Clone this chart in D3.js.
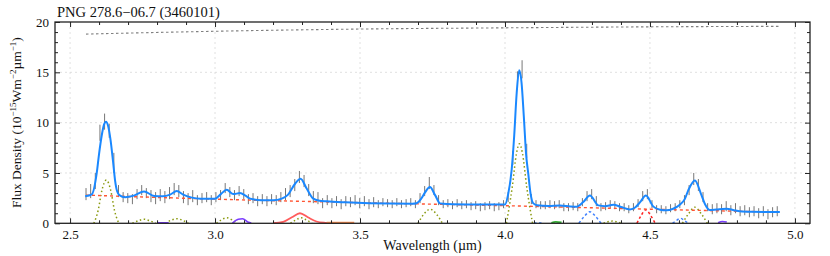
<!DOCTYPE html>
<html>
<head>
<meta charset="utf-8">
<script src="https://cdn.jsdelivr.net/npm/d3@7"></script>
<style>
  body { margin: 0; background: #fff; }
  #chart svg { display: block; }
  #chart text { font-family: "Liberation Serif", "Times New Roman", Times, serif; }
</style>
</head>
<body>
<div id="chart"></div>
<script>
// Observed spectrum (wavelength in micron, flux and 1-sigma error)
const obsWave = [2.555,2.571,2.587,2.603,2.619,2.635,2.651,2.667,2.683,2.699,2.715,2.731,2.747,2.763,2.779,2.795,2.811,2.827,2.843,2.859,
  2.875,2.891,2.907,2.923,2.939,2.955,2.971,2.987,3.003,3.019,3.035,3.051,3.067,3.083,3.099,3.115,3.131,3.147,3.163,3.179,
  3.195,3.211,3.227,3.243,3.259,3.275,3.291,3.307,3.323,3.339,3.355,3.371,3.387,3.403,3.419,3.435,3.451,3.467,3.483,3.499,
  3.515,3.531,3.547,3.563,3.579,3.595,3.611,3.627,3.643,3.659,3.675,3.691,3.707,3.723,3.739,3.755,3.771,3.787,3.803,3.819,
  3.835,3.851,3.867,3.883,3.899,3.915,3.931,3.947,3.963,3.979,3.995,4.011,4.027,4.043,4.059,4.075,4.091,4.107,4.123,4.139,
  4.155,4.171,4.187,4.203,4.219,4.235,4.251,4.267,4.283,4.299,4.315,4.331,4.347,4.363,4.379,4.395,4.411,4.427,4.443,4.459,
  4.475,4.491,4.507,4.523,4.539,4.555,4.571,4.587,4.603,4.619,4.635,4.651,4.667,4.683,4.699,4.715,4.731,4.747,4.763,4.779,
  4.795,4.811,4.827,4.843,4.859,4.875,4.891,4.907,4.923,4.939];
const obsFlux = [2.9,3.2,4.2,9.0,10.1,9.2,6.0,3.2,2.6,2.5,2.4,2.9,3.3,3.0,2.7,2.5,2.8,2.6,3.0,3.4,
  3.2,2.6,2.4,2.7,2.3,2.5,2.6,2.3,2.6,2.8,3.5,3.1,2.8,3.2,2.9,2.4,2.5,2.2,2.4,2.2,
  2.4,2.3,2.6,2.9,3.2,3.8,4.6,4.2,3.3,2.6,2.5,2.0,2.3,2.0,2.2,1.9,2.2,2.1,2.3,2.0,
  2.2,1.9,2.1,1.9,2.1,2.0,1.9,2.1,1.9,2.0,2.1,1.9,2.5,3.2,4.0,3.3,2.3,1.9,2.0,1.8,
  2.0,1.8,1.9,1.7,1.8,1.6,1.7,1.8,1.6,1.7,1.9,2.6,6.5,14.2,15.3,7.2,2.4,1.9,1.8,1.8,
  1.9,1.8,1.9,1.6,1.6,1.7,1.6,2.1,2.7,2.9,2.2,1.6,1.7,1.9,1.8,1.6,1.6,1.4,1.6,2.0,
  2.7,2.9,1.9,1.4,1.4,1.3,1.5,1.6,1.9,2.3,3.3,4.4,3.8,2.6,1.6,1.4,1.5,1.4,1.7,1.3,
  1.5,1.2,1.3,1.1,1.2,1.0,1.2,0.9,1.1,1.2];
const obsErr = [0.6,0.7,0.8,0.8,0.8,0.7,1.0,0.6,0.5,0.5,0.5,0.5,0.5,0.5,0.6,0.6,0.6,0.6,0.6,0.6,
  0.6,0.6,0.6,0.6,0.5,0.5,0.5,0.5,0.5,0.5,0.5,0.5,0.5,0.5,0.5,0.5,0.5,0.5,0.5,0.5,
  0.5,0.5,0.5,0.6,0.6,0.6,0.6,0.6,0.6,0.6,0.6,0.5,0.5,0.5,0.5,0.5,0.5,0.5,0.5,0.5,
  0.5,0.5,0.5,0.4,0.4,0.4,0.4,0.4,0.4,0.4,0.4,0.4,0.5,0.5,0.6,0.5,0.5,0.4,0.4,0.4,
  0.4,0.4,0.4,0.4,0.4,0.4,0.4,0.4,0.4,0.4,0.4,0.5,0.7,0.9,0.9,0.7,0.5,0.4,0.4,0.4,
  0.4,0.4,0.4,0.4,0.4,0.4,0.4,0.4,0.5,0.5,0.5,0.4,0.4,0.4,0.4,0.4,0.4,0.4,0.4,0.4,
  0.5,0.5,0.4,0.4,0.4,0.4,0.4,0.4,0.4,0.5,0.5,0.6,0.6,0.5,0.4,0.5,0.5,0.5,0.5,0.5,
  0.5,0.5,0.5,0.5,0.5,0.5,0.5,0.5,0.5,0.5];

// Total model fit
const fitWave = [2.552,2.575,2.592,2.600,2.609,2.617,2.624,2.631,2.640,2.648,2.655,2.662,2.670,2.690,2.720,2.755,2.790,2.820,2.845,2.868,
  2.890,2.920,2.950,3.000,3.020,3.040,3.063,3.086,3.105,3.121,3.160,3.200,3.230,3.250,3.276,3.295,3.316,3.339,3.360,3.385,
  3.450,3.534,3.600,3.680,3.695,3.710,3.725,3.741,3.759,3.776,3.800,3.900,4.000,4.011,4.023,4.032,4.040,4.049,4.057,4.065,
  4.073,4.080,4.088,4.097,4.110,4.150,4.190,4.225,4.247,4.270,4.293,4.322,4.345,4.374,4.400,4.431,4.450,4.466,4.486,4.511,
  4.535,4.557,4.580,4.603,4.620,4.632,4.655,4.678,4.690,4.707,4.730,4.764,4.790,4.810,4.850,4.948];
const fitFlux = [2.68,2.87,5.0,6.9,8.7,9.8,10.1,9.7,8.2,6.2,4.3,3.2,2.8,2.6,2.75,3.15,2.72,2.68,2.85,3.2,
  2.85,2.55,2.45,2.45,2.9,3.33,2.9,3.0,2.75,2.45,2.3,2.28,2.45,2.8,3.93,4.42,3.45,2.45,2.25,2.18,
  2.08,2.0,1.97,1.95,2.0,2.4,3.1,3.6,2.8,1.98,1.92,1.87,1.86,2.9,5.3,8.8,12.8,15.2,14.0,10.6,
  6.8,5.0,3.0,2.0,1.8,1.72,1.78,1.68,1.65,2.11,2.77,1.78,1.7,1.85,1.62,1.38,1.6,2.1,2.77,1.68,
  1.35,1.29,1.45,1.85,2.4,3.27,4.26,2.77,1.9,1.32,1.38,1.45,1.3,1.2,1.15,1.12];

// Continuum and upper reference curve
const contWave = [2.555,3.0,3.5,4.0,4.5,4.95];
const contFlux = [2.8,2.4,2.05,1.75,1.4,1.1];
const topWave = [2.555,3.0,3.5,4.0,4.5,4.95];
const topFlux = [18.8,19.08,19.3,19.42,19.52,19.57];

// Individual line components: [wavelength, flux] pairs
const compOlive = [
  [[2.582,0],[2.597,1.3],[2.610,3.3],[2.625,4.3],[2.640,3.3],[2.653,1.3],[2.668,0]],
  [[2.715,0],[2.735,0.25],[2.755,0.4],[2.775,0.25],[2.795,0]],
  [[2.828,0],[2.848,0.3],[2.868,0.45],[2.888,0.3],[2.908,0]],
  [[3.005,0],[3.022,0.35],[3.040,0.55],[3.058,0.35],[3.075,0]],
  [[3.260,0],[3.280,0.35],[3.297,0.55],[3.314,0.35],[3.334,0]],
  [[3.700,0],[3.720,0.9],[3.742,1.4],[3.764,0.9],[3.784,0]],
  [[4.005,0],[4.025,3.6],[4.040,7.0],[4.050,7.9],[4.060,7.0],[4.075,3.6],[4.095,0]],
  [[4.340,0],[4.355,0.15],[4.370,0.22],[4.385,0.15],[4.400,0]],
  [[4.612,0],[4.632,0.9],[4.655,1.6],[4.678,0.9],[4.698,0]]
];
const compBlue = [
  [[4.255,0],[4.274,0.7],[4.293,1.15],[4.312,0.7],[4.331,0]],
  [[4.578,0],[4.592,0.3],[4.605,0.5],[4.618,0.3],[4.632,0]],
  [[4.100,0.03],[4.130,0.03]]
];
const compRedDot = [[4.455,0],[4.470,0.8],[4.486,1.35],[4.502,0.8],[4.518,0]];
const compRed = [[3.200,0.02],[3.235,0.15],[3.265,0.6],[3.293,1.0],[3.320,0.6],[3.350,0.18],[3.380,0.05],[3.410,0.01]];
const compOrange = [[3.385,0.06],[3.430,0.07],[3.480,0.06]];
const compPurple = [
  [[2.800,0.05],[2.840,0.06]],
  [[3.060,0.02],[3.080,0.4],[3.095,0.45],[3.115,0.1],[3.125,0.02]],
  [[4.735,0.05],[4.750,0.18],[4.765,0.12]]
];
const compGreen = [[4.160,0.05],[4.175,0.15],[4.195,0.08]];

const xTicks = [2.5, 3.0, 3.5, 4.0, 4.5, 5.0];
const yTicks = [0, 5, 10, 15, 20];

const W = 830, H = 256;
const pLeft = 55, pRight = 810, pTop = 22, pBottom = 223.3;
const serif = "'Liberation Serif', 'Times New Roman', Times, serif";

const svg = d3.select("#chart")
    .append("svg")
    .attr("width", W)
    .attr("height", H);

const x = d3.scaleLinear().domain([2.448, 5.052]).range([pLeft, pRight]);
const y = d3.scaleLinear().domain([0, 20]).range([pBottom, pTop]);

// Grid
svg.append("g")
    .selectAll("line")
    .data(xTicks)
    .join("line")
        .attr("x1", d => x(d)).attr("x2", d => x(d))
        .attr("y1", pTop).attr("y2", pBottom)
        .attr("stroke", "#d8d8d8")
        .attr("stroke-dasharray", "2,3")
        .attr("stroke-width", 0.8);
svg.append("g")
    .selectAll("line")
    .data(yTicks.slice(1, -1))
    .join("line")
        .attr("x1", pLeft).attr("x2", pRight)
        .attr("y1", d => y(d)).attr("y2", d => y(d))
        .attr("stroke", "#d8d8d8")
        .attr("stroke-dasharray", "2,3")
        .attr("stroke-width", 0.8);

const smooth = d3.line().x(d => x(d[0])).y(d => y(d[1])).curve(d3.curveMonotoneX);
const zip = (a, b) => a.map((v, i) => [v, b[i]]);

const plot = svg.append("g");

// Upper reference curve
plot.append("path")
    .attr("d", smooth(zip(topWave, topFlux)))
    .attr("fill", "none")
    .attr("stroke", "#808080")
    .attr("stroke-width", 1.1)
    .attr("stroke-dasharray", "2.5,2.5");

// Components
function drawComp(pts, color, dash, width) {
    plot.append("path")
        .attr("d", smooth(pts))
        .attr("fill", "none")
        .attr("stroke", color)
        .attr("stroke-width", width)
        .attr("stroke-dasharray", dash);
}
compOlive.forEach(c => drawComp(c, "#8a9a10", "1.5,2.5", 1.5));
compBlue.forEach(c => drawComp(c, "#3d7fff", "2.5,2.5", 1.5));
drawComp(compRedDot, "#ff2020", "2.5,2.5", 1.5);
drawComp(compRed, "#ff5c5c", null, 1.8);
drawComp(compOrange, "#ff9050", null, 1.8);
compPurple.forEach(c => drawComp(c, "#7a3cff", null, 1.5));
drawComp(compGreen, "#30b030", null, 1.8);

// Error bars
plot.append("g")
    .selectAll("line")
    .data(obsWave.map((w, i) => ({ w: w, f: obsFlux[i], e: obsErr[i] })))
    .join("line")
        .attr("x1", d => x(d.w)).attr("x2", d => x(d.w))
        .attr("y1", d => y(d.f - d.e)).attr("y2", d => y(d.f + d.e))
        .attr("stroke", "#777")
        .attr("stroke-width", 1);

// Continuum
plot.append("path")
    .attr("d", smooth(zip(contWave, contFlux)))
    .attr("fill", "none")
    .attr("stroke", "#ff5533")
    .attr("stroke-width", 1.4)
    .attr("stroke-dasharray", "3,3");

// Total fit
plot.append("path")
    .attr("d", smooth(zip(fitWave, fitFlux)))
    .attr("fill", "none")
    .attr("stroke", "#1a88ff")
    .attr("stroke-width", 2)
    .attr("stroke-linejoin", "round");

// Axes with inward ticks on all sides
const minorX = d3.range(25, 51).map(d => d / 10).filter(d => !xTicks.some(t => Math.abs(t - d) < 1e-6));
const minorY = d3.range(0, 21).filter(d => d % 5 !== 0);

function ticks(axisFn, scale, values, size, pos, labels) {
    const g = svg.append("g")
        .attr("transform", pos)
        .call(axisFn(scale).tickValues(values).tickSize(-size).tickPadding(labels ? 6 : 0)
            .tickFormat(labels ? (scale === x ? d3.format(".1f") : d3.format("d")) : ""));
    g.attr("font-family", serif).attr("font-size", 13);
    g.select(".domain").remove();
    g.selectAll(".tick line").attr("stroke", "#222").attr("stroke-width", 1);
    g.selectAll("text").attr("fill", "#111");
    return g;
}
ticks(d3.axisBottom, x, xTicks, 5, `translate(0,${pBottom})`, true);
ticks(d3.axisBottom, x, minorX, 3, `translate(0,${pBottom})`, false);
ticks(d3.axisTop, x, xTicks, 5, `translate(0,${pTop})`, false);
ticks(d3.axisTop, x, minorX, 3, `translate(0,${pTop})`, false);
ticks(d3.axisLeft, y, yTicks, 5, `translate(${pLeft},0)`, true);
ticks(d3.axisLeft, y, minorY, 3, `translate(${pLeft},0)`, false);
ticks(d3.axisRight, y, yTicks, 5, `translate(${pRight},0)`, false);
ticks(d3.axisRight, y, minorY, 3, `translate(${pRight},0)`, false);

// Frame
svg.append("rect")
    .attr("x", pLeft).attr("y", pTop)
    .attr("width", pRight - pLeft).attr("height", pBottom - pTop)
    .attr("fill", "none")
    .attr("stroke", "#222")
    .attr("stroke-width", 1.3);

// Title
svg.append("text")
    .attr("x", 57).attr("y", 17)
    .attr("font-family", serif)
    .attr("font-size", 14.5)
    .attr("fill", "#111")
    .text("PNG 278.6\u221206.7 (3460101)");

// Axis labels
svg.append("text")
    .attr("x", (pLeft + pRight) / 2).attr("y", 250)
    .attr("text-anchor", "middle")
    .attr("font-family", serif)
    .attr("font-size", 14)
    .attr("fill", "#111")
    .text("Wavelength (\u00b5m)");

const yl = svg.append("text")
    .attr("transform", `translate(21,${(pTop + pBottom) / 2}) rotate(-90)`)
    .attr("text-anchor", "middle")
    .attr("font-family", serif)
    .attr("font-size", 13.5)
    .attr("fill", "#111");
yl.append("tspan").text("Flux Density (10");
yl.append("tspan").attr("dy", -5).attr("font-size", 9).text("\u221215");
yl.append("tspan").attr("dy", 5).text("Wm");
yl.append("tspan").attr("dy", -5).attr("font-size", 9).text("\u22122");
yl.append("tspan").attr("dy", 5).text("\u00b5m");
yl.append("tspan").attr("dy", -5).attr("font-size", 9).text("\u22121");
yl.append("tspan").attr("dy", 5).text(")");
</script>
</body>
</html>
